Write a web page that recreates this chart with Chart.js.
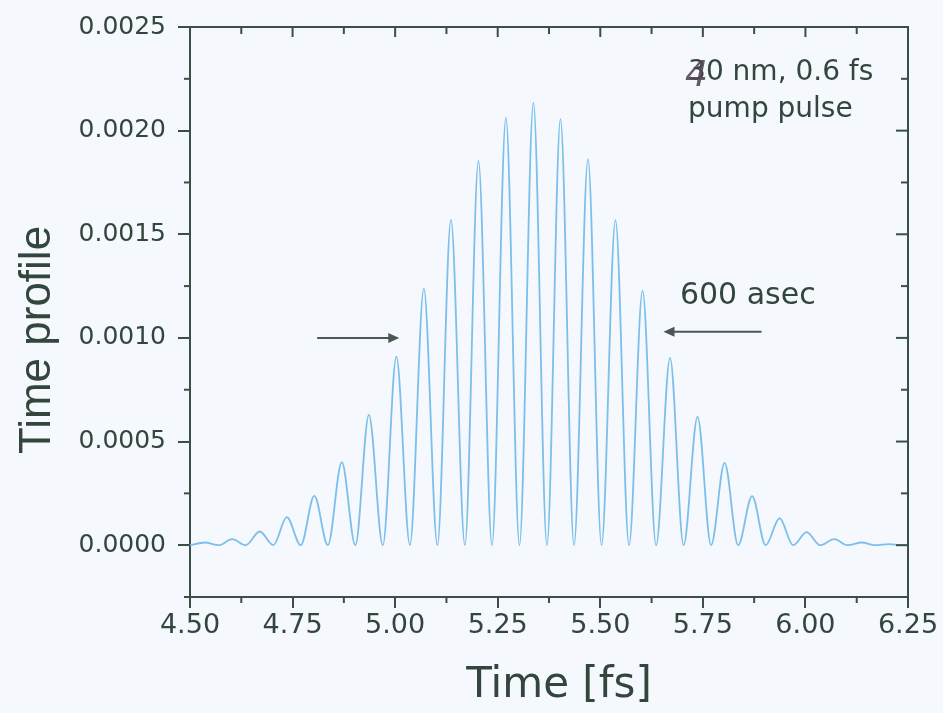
<!DOCTYPE html>
<html>
<head>
<meta charset="utf-8">
<script src="https://cdn.jsdelivr.net/npm/chart.js@4.4.1/dist/chart.umd.min.js"></script>
<style>
  html, body { margin: 0; padding: 0; background: #f5f8fc; }
  #wrap { width: 943px; height: 713px; }
</style>
</head>
<body>
<div id="wrap"><canvas id="c" width="943" height="713"></canvas></div>
<script>
// pulse maxima (time in fs, value)
const peakTimes = [4.536, 4.603, 4.670, 4.736, 4.803, 4.870, 4.936, 5.003, 5.070, 5.136, 5.203, 5.270, 5.337,
  5.403, 5.470, 5.537, 5.603, 5.670, 5.737, 5.803, 5.870, 5.937, 6.003, 6.070, 6.137, 6.204];
const peakValues = [0.000013, 0.000029, 0.000066, 0.000135, 0.000238, 0.000401, 0.000629, 0.000909, 0.001238,
  0.001569, 0.001854, 0.002061, 0.002134, 0.002056, 0.001863, 0.001568, 0.001228, 0.000904, 0.000619,
  0.000397, 0.000237, 0.000130, 0.000063, 0.000029, 0.000013, 0.000005];
// minima between the maxima
const troughTimes = [4.500, 4.570, 4.636, 4.703, 4.770, 4.836, 4.903, 4.970, 5.036, 5.103, 5.170, 5.236, 5.303,
  5.370, 5.436, 5.503, 5.570, 5.636, 5.703, 5.770, 5.836, 5.903, 5.970, 6.036, 6.103, 6.170, 6.236, 6.250];
const troughValues = [0, 0, 0, 0, 0, 0, 0, 0, 0, 0, 0, 0, 0, 0, 0, 0, 0, 0, 0, 0, 0, 0, 0, 0, 0, 0, 0, 0];

const xMajor = [4.50, 4.75, 5.00, 5.25, 5.50, 5.75, 6.00, 6.25];
const xMinor = [4.625, 4.875, 5.125, 5.375, 5.625, 5.875, 6.125];
const yMajor = [0, 0.0005, 0.0010, 0.0015, 0.0020, 0.0025];
const yMinor = [-0.00025, 0.00025, 0.00075, 0.00125, 0.00175, 0.00225];

const ink = "#33463e";
const axisInk = "#3c4f47";
const lineBlue = "#7cbfeb";

const points = peakTimes.map((t, i) => ({ x: t, y: peakValues[i] }))
  .concat(troughTimes.map((t, i) => ({ x: t, y: troughValues[i] })))
  .sort((a, b) => a.x - b.x);

function seg(ctx, x1, y1, x2, y2) {
  ctx.beginPath();
  ctx.moveTo(x1, y1);
  ctx.lineTo(x2, y2);
  ctx.stroke();
}

function arrow(ctx, x1, y, x2) {
  const dir = x2 > x1 ? 1 : -1;
  ctx.lineWidth = 2;
  seg(ctx, x1, y, x2 - dir * 8, y);
  ctx.beginPath();
  ctx.moveTo(x2, y);
  ctx.lineTo(x2 - dir * 11, y - 5);
  ctx.lineTo(x2 - dir * 11, y + 5);
  ctx.closePath();
  ctx.fill();
}

const frame = {
  id: "frame",
  beforeDraw(chart) {
    const ctx = chart.ctx;
    ctx.save();
    ctx.fillStyle = "#f5f8fc";
    ctx.fillRect(0, 0, chart.width, chart.height);
    ctx.restore();
  },
  afterDraw(chart) {
    const { ctx, chartArea: a, scales: { x, y } } = chart;
    ctx.save();
    ctx.strokeStyle = axisInk;
    ctx.fillStyle = axisInk;
    ctx.lineWidth = 2;
    // top and right edges
    ctx.beginPath();
    ctx.moveTo(a.left - 1, a.top);
    ctx.lineTo(a.right, a.top);
    ctx.lineTo(a.right, a.bottom + 1);
    ctx.stroke();
    xMajor.forEach(v => {
      const px = x.getPixelForValue(v);
      seg(ctx, px, a.top, px, a.top + 10);
    });
    xMinor.forEach(v => {
      const px = x.getPixelForValue(v);
      seg(ctx, px, a.bottom, px, a.bottom + 6);
      seg(ctx, px, a.top, px, a.top + 7);
    });
    yMajor.forEach(v => {
      const py = y.getPixelForValue(v);
      seg(ctx, a.right, py, a.right - 12, py);
    });
    yMinor.forEach(v => {
      const py = y.getPixelForValue(v);
      seg(ctx, a.left, py, a.left - 6, py);
      seg(ctx, a.right, py, a.right - 7, py);
    });

    // axis titles
    ctx.fillStyle = ink;
    ctx.textAlign = "center";
    ctx.textBaseline = "alphabetic";
    ctx.font = "42px 'DejaVu Sans'";
    ctx.fillText("Time [fs]", 559, 697);
    ctx.save();
    ctx.translate(50, 340);
    ctx.rotate(-Math.PI / 2);
    ctx.font = "44px 'Liberation Sans'";
    ctx.fillText("Time profile", 0, 0);
    ctx.restore();

    // arrows marking the 600 asec width
    ctx.strokeStyle = "#4b5751";
    ctx.fillStyle = "#4b5751";
    arrow(ctx, x.getPixelForValue(4.81), y.getPixelForValue(0.0010), x.getPixelForValue(5.01));
    arrow(ctx, x.getPixelForValue(5.893), y.getPixelForValue(0.00103), x.getPixelForValue(5.654));

    // annotations
    ctx.fillStyle = ink;
    ctx.textAlign = "left";
    ctx.font = "30px 'DejaVu Sans'";
    ctx.fillText("600 asec", x.getPixelForValue(5.694), y.getPixelForValue(0.001166));
    ctx.font = "28px 'DejaVu Sans'";
    const nx = x.getPixelForValue(5.714);
    const ny = y.getPixelForValue(0.002245);
    ctx.fillText("30 nm, 0.6 fs", nx, ny);
    ctx.fillText("pump pulse", nx, y.getPixelForValue(0.002066));
    // hand-written correction over the 3
    ctx.fillStyle = "rgba(85, 70, 90, 0.9)";
    ctx.font = "italic 36px 'DejaVu Sans'";
    ctx.fillText("4", nx - 3, ny + 6);
    ctx.restore();
  }
};

new Chart(document.getElementById("c"), {
  type: "line",
  data: {
    datasets: [{
      data: points,
      borderColor: lineBlue,
      borderWidth: 1.8,
      pointRadius: 0,
      fill: false,
      cubicInterpolationMode: "monotone"
    }]
  },
  options: {
    responsive: false,
    devicePixelRatio: 1,
    animation: false,
    layout: { padding: { top: 26, right: 35, left: 0, bottom: 0 } },
    plugins: { legend: { display: false }, tooltip: { enabled: false } },
    scales: {
      x: {
        type: "linear",
        min: 4.5,
        max: 6.25,
        afterBuildTicks: s => { s.ticks = xMajor.map(v => ({ value: v })); },
        afterFit: s => { s.height = 116; },
        ticks: {
          autoSkip: false,
          maxRotation: 0,
          padding: 2,
          color: ink,
          font: { family: "'DejaVu Sans'", size: 27 },
          callback: v => v.toFixed(2)
        },
        grid: { display: true, drawOnChartArea: false, tickLength: 11, color: axisInk, lineWidth: 2 },
        border: { display: true, color: axisInk, width: 2 }
      },
      y: {
        type: "linear",
        min: -0.00025,
        max: 0.0025,
        afterBuildTicks: s => { s.ticks = yMajor.map(v => ({ value: v })); },
        afterFit: s => { s.width = 190; },
        ticks: {
          autoSkip: false,
          padding: 12,
          color: ink,
          font: { family: "'DejaVu Sans'", size: 25 },
          callback: v => v.toFixed(4)
        },
        grid: { display: true, drawOnChartArea: false, tickLength: 12, color: axisInk, lineWidth: 2 },
        border: { display: true, color: axisInk, width: 2 }
      }
    }
  },
  plugins: [frame]
});
</script>
</body>
</html>
